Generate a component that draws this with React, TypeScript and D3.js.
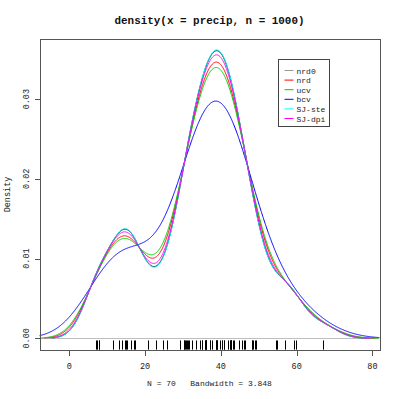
import { useEffect, useRef } from "react";
import * as d3 from "d3";

// precip (70 US cities), values for the rug and the kernel estimates
const precip = [
  67.0, 54.7, 7.0, 48.5, 14.0, 17.2, 20.7, 13.0, 43.4, 40.2, 38.9, 54.5, 59.8, 48.3,
  22.9, 11.5, 34.4, 35.1, 38.7, 30.8, 30.6, 43.1, 56.8, 40.8, 41.8, 42.5, 31.0, 31.7,
  30.2, 25.9, 49.2, 37.0, 35.9, 15.0, 30.2, 7.2, 36.2, 45.5, 7.8, 33.4, 36.1, 40.2,
  42.7, 42.5, 16.2, 39.0, 35.0, 37.0, 31.4, 37.6, 39.9, 36.2, 42.8, 46.4, 24.7, 49.1,
  46.0, 35.9, 7.8, 48.2, 15.2, 32.5, 44.7, 42.6, 38.8, 17.4, 40.8, 29.1, 14.6, 59.2,
];

const bwNames = ["nrd0", "nrd", "ucv", "bcv", "SJ-ste", "SJ-dpi"];
const bwValues = [3.848, 4.532, 4.85, 6.9, 3.8, 4.1];
const curveColors = ["#000000", "#ff0000", "#00cd00", "#0000ff", "#00ffff", "#ff00ff"];
const legendColors = ["#9a9a9a", "#ff0000", "#00cd00", "#0000ff", "#00ffff", "#ff00ff"];

const xTicks = [0, 20, 40, 60, 80];
const yTicks = [0, 0.01, 0.02, 0.03];

const W = 400;
const H = 399;
const FONT = "'Liberation Mono', 'DejaVu Sans Mono', monospace";

function kde(data: number[], bw: number, n = 1000): [number, number][] {
  const lo = d3.min(data)! - 3 * bw;
  const hi = d3.max(data)! + 3 * bw;
  const c = 1 / (data.length * bw * Math.sqrt(2 * Math.PI));
  const out: [number, number][] = [];
  for (let i = 0; i < n; i++) {
    const x = lo + ((hi - lo) * i) / (n - 1);
    let s = 0;
    for (const v of data) {
      const u = (x - v) / bw;
      s += Math.exp(-0.5 * u * u);
    }
    out.push([x, s * c]);
  }
  return out;
}

export default function App() {
  const ref = useRef<SVGSVGElement>(null);

  useEffect(() => {
    if (!ref.current) return;
    const svg = d3.select(ref.current);
    svg.selectAll("*").remove();

    const curves = bwValues.map((bw) => kde(precip, bw));
    const main = curves[0];
    const xr = [main[0][0], main[main.length - 1][0]];
    const ymax = d3.max(main, (d) => d[1])!;
    const xpad = (xr[1] - xr[0]) * 0.04;

    const x = d3.scaleLinear().domain([xr[0] - xpad, xr[1] + xpad]).range([39.5, 379.5]);
    const y = d3.scaleLinear().domain([-0.04 * ymax, 1.04 * ymax]).range([349.8, 39.2]);

    const [x0, x1] = x.range();
    const [y0, y1] = y.range();

    svg
      .append("defs")
      .append("clipPath")
      .attr("id", "plotclip")
      .append("rect")
      .attr("x", x0)
      .attr("y", y1)
      .attr("width", x1 - x0)
      .attr("height", y0 - y1);

    const plot = svg.append("g").attr("clip-path", "url(#plotclip)");

    // zero line
    plot
      .append("line")
      .attr("x1", x0)
      .attr("x2", x1)
      .attr("y1", Math.round(y(0)) + 0.5)
      .attr("y2", Math.round(y(0)) + 0.5)
      .attr("stroke", "#bebebe");

    // curves
    const line = d3
      .line<[number, number]>()
      .x((d) => x(d[0]))
      .y((d) => y(d[1]));
    curves.forEach((c, i) => {
      plot
        .append("path")
        .attr("d", line(c))
        .attr("fill", "none")
        .attr("stroke", curveColors[i])
        .attr("stroke-width", 1);
    });

    // rug
    const rugLen = 0.03 * (y0 - y1);
    plot
      .append("g")
      .selectAll("line")
      .data(precip)
      .join("line")
      .attr("x1", (d) => Math.round(x(d)) + 0.5)
      .attr("x2", (d) => Math.round(x(d)) + 0.5)
      .attr("y1", y0)
      .attr("y2", y0 - rugLen)
      .attr("stroke", "#000")
      .attr("stroke-width", 1);

    // box
    svg
      .append("rect")
      .attr("x", Math.round(x0) + 0.5)
      .attr("y", Math.round(y1) + 0.5)
      .attr("width", Math.round(x1 - x0))
      .attr("height", Math.round(y0 - y1))
      .attr("fill", "none")
      .attr("stroke", "#555");

    // x axis
    const bx = svg.append("g");
    xTicks.forEach((t) => {
      const px = Math.round(x(t)) + 0.5;
      bx.append("line")
        .attr("x1", px)
        .attr("x2", px)
        .attr("y1", Math.round(y0) + 0.5)
        .attr("y2", Math.round(y0) + 6)
        .attr("stroke", "#555");
      bx.append("text")
        .attr("x", x(t))
        .attr("y", 369)
        .attr("text-anchor", "middle")
        .attr("font-family", FONT)
        .attr("font-size", 8.5)
        .attr("fill", "#222")
        .text(String(t));
    });

    // y axis
    const by = svg.append("g");
    yTicks.forEach((t) => {
      const py = Math.round(y(t)) + 0.5;
      by.append("line")
        .attr("x1", Math.round(x0) + 0.5)
        .attr("x2", Math.round(x0) - 5)
        .attr("y1", py)
        .attr("y2", py)
        .attr("stroke", "#555");
      by.append("text")
        .attr("transform", `translate(29,${y(t)}) rotate(-90)`)
        .attr("text-anchor", "middle")
        .attr("font-family", FONT)
        .attr("font-size", 8.5)
        .attr("fill", "#222")
        .text(t.toFixed(2));
    });

    // titles
    svg
      .append("text")
      .attr("x", (x0 + x1) / 2)
      .attr("y", 24)
      .attr("text-anchor", "middle")
      .attr("font-family", FONT)
      .attr("font-size", 11)
      .attr("font-weight", "bold")
      .attr("fill", "#111")
      .attr("textLength", 190)
      .attr("lengthAdjust", "spacingAndGlyphs")
      .text("density(x = precip, n = 1000)");

    svg
      .append("text")
      .attr("x", (x0 + x1) / 2)
      .attr("y", 386)
      .attr("text-anchor", "middle")
      .attr("font-family", FONT)
      .attr("font-size", 8)
      .attr("fill", "#222")
      .attr("xml:space", "preserve")
      .text("N = 70   Bandwidth = 3.848");

    svg
      .append("text")
      .attr("transform", `translate(10,${(y0 + y1) / 2}) rotate(-90)`)
      .attr("text-anchor", "middle")
      .attr("font-family", FONT)
      .attr("font-size", 8.5)
      .attr("fill", "#222")
      .text("Density");

    // legend
    const lx = Math.round(x(55)) + 0.5;
    const ly = Math.round(y(0.035)) + 0.5;
    const lg = svg.append("g");
    lg.append("rect")
      .attr("x", lx)
      .attr("y", ly)
      .attr("width", 51)
      .attr("height", 67)
      .attr("fill", "#fff")
      .attr("stroke", "#444");
    bwNames.forEach((name, i) => {
      const ry = ly + 11 + i * 9.6;
      lg.append("line")
        .attr("x1", lx + 6)
        .attr("x2", lx + 15)
        .attr("y1", ry)
        .attr("y2", ry)
        .attr("stroke", legendColors[i]);
      lg.append("text")
        .attr("x", lx + 18)
        .attr("y", ry + 3)
        .attr("font-family", FONT)
        .attr("font-size", 8)
        .attr("fill", "#222")
        .text(name);
    });
  }, []);

  return (
    <svg
      ref={ref}
      width={W}
      height={H}
      style={{ position: "absolute", left: 0, top: 0, background: "#fff" }}
    />
  );
}
